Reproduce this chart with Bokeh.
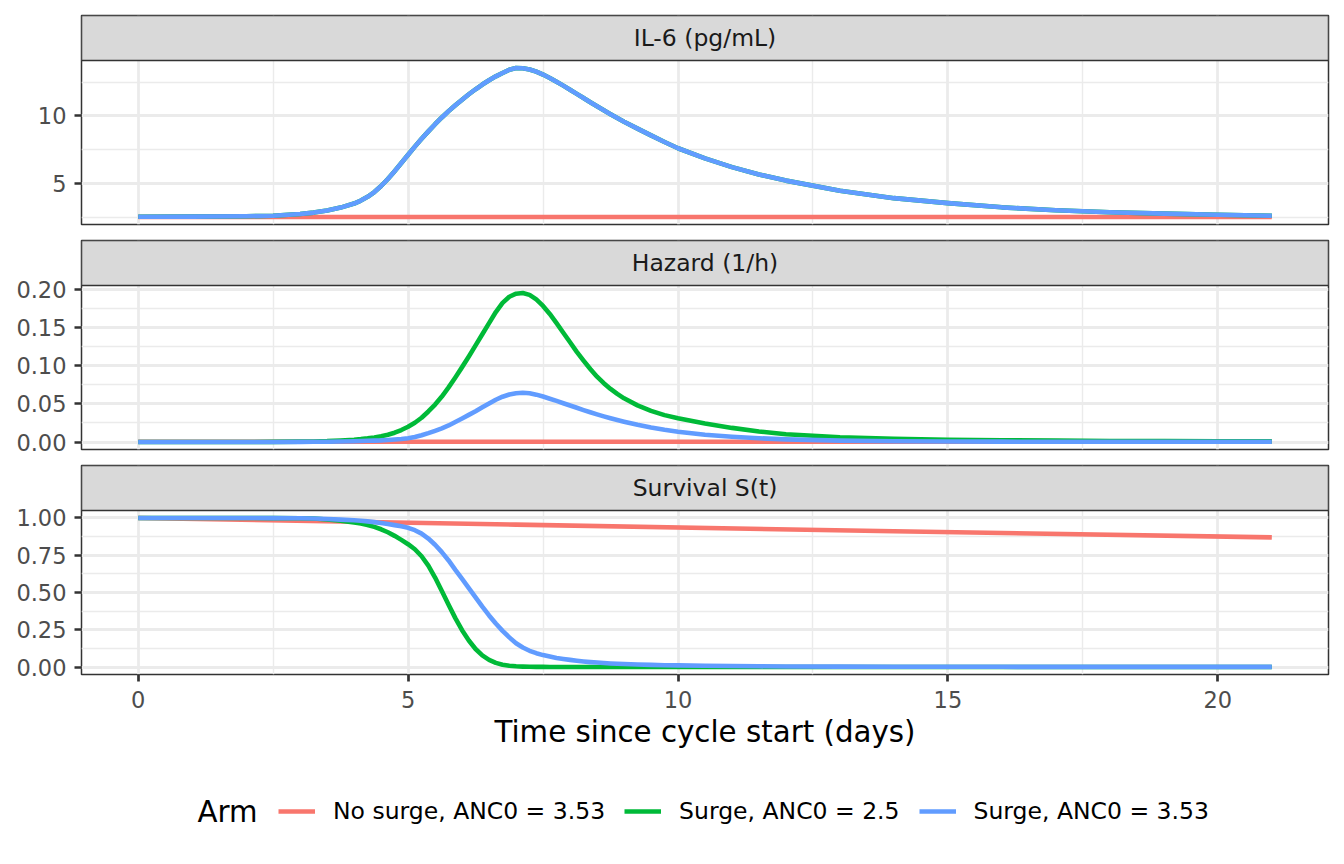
from bokeh.plotting import figure
from bokeh.models import (ColumnDataSource, Range1d, FixedTicker, BoxAnnotation, Label,
                          Legend, LegendItem, PrintfTickFormatter)
from bokeh.layouts import column
from bokeh.embed import file_html
from bokeh.resources import INLINE

# ---------------- data ----------------
# time grid (days) used for the two surge arms
days = [0, 1, 2, 2.5, 3, 3.25, 3.5, 3.75,
        4.0, 4.125, 4.25, 4.375, 4.5, 4.625, 4.75, 4.875,
        5.0, 5.125, 5.25, 5.375, 5.5, 5.625, 5.75, 5.875,
        6.0, 6.125, 6.25, 6.375, 6.5, 6.625, 6.75, 6.875,
        7.0, 7.125, 7.25, 7.375, 7.5, 7.625, 7.75, 7.875,
        8.0, 8.125, 8.25, 8.375, 8.5, 8.625, 8.75, 8.875,
        9.0, 9.25, 9.5, 9.75, 10, 10.5, 11, 11.5, 12,
        13, 14, 15, 16, 17, 18, 19, 20, 21]
# time grid (days) for the no-surge arm (smooth, slowly varying)
days_nosurge = [0, 7, 14, 21]

arm_labels = ["No surge, ANC0 = 3.53", "Surge, ANC0 = 2.5", "Surge, ANC0 = 3.53"]
arm_colors = ["#F8766D", "#00BA38", "#619CFF"]
panel_titles = ["IL-6 (pg/mL)", "Hazard (1/h)", "Survival S(t)"]
x_label = "Time since cycle start (days)"
legend_title = "Arm"

# IL-6 (pg/mL)
il6_nosurge = [2.5, 2.5, 2.5, 2.5]
il6_surge = [2.52, 2.53, 2.56, 2.60, 2.72, 2.83, 2.98, 3.20,
             3.50, 3.72, 4.00, 4.35, 4.80, 5.32, 5.90, 6.50,
             7.12, 7.72, 8.30, 8.85, 9.38, 9.88, 10.35, 10.79,
             11.20, 11.60, 11.97, 12.32, 12.64, 12.93, 13.18, 13.42,
             13.55, 13.53, 13.44, 13.28, 13.06, 12.81, 12.53, 12.24,
             11.94, 11.63, 11.32, 11.01, 10.71, 10.41, 10.12, 9.84,
             9.56, 9.05, 8.55, 8.06, 7.60, 6.85, 6.20, 5.65, 5.20,
             4.45, 3.90, 3.53, 3.22, 3.00, 2.85, 2.75, 2.67, 2.60]
il6_surge_25 = il6_surge
il6_surge_353 = il6_surge

# Hazard (1/h)
haz_nosurge = [0.0003, 0.0003, 0.0003, 0.0003]
haz_surge_25 = [0.0000, 0.0000, 0.0001, 0.0002, 0.0005, 0.0008, 0.0012, 0.0020,
                0.0030, 0.0038, 0.0048, 0.0060, 0.0075, 0.0095, 0.0122, 0.0157,
                0.0200, 0.0252, 0.0318, 0.0400, 0.0490, 0.0595, 0.0715, 0.0845,
                0.0980, 0.1120, 0.1265, 0.1410, 0.1555, 0.1700, 0.1820, 0.1900,
                0.1940, 0.1950, 0.1925, 0.1865, 0.1780, 0.1675, 0.1555, 0.1430,
                0.1305, 0.1180, 0.1065, 0.0955, 0.0855, 0.0770, 0.0695, 0.0630,
                0.0572, 0.0480, 0.0408, 0.0352, 0.0310, 0.0243, 0.0185, 0.0138, 0.0102,
                0.0062, 0.0042, 0.0030, 0.0023, 0.0018, 0.0014, 0.0012, 0.0010, 0.0009]
haz_surge_353 = [0.0000, 0.0000, 0.0000, 0.0001, 0.0002, 0.0003, 0.0004, 0.0007,
                 0.0010, 0.0013, 0.0016, 0.0019, 0.0022, 0.0027, 0.0033, 0.0040,
                 0.0050, 0.0065, 0.0088, 0.0116, 0.0147, 0.0180, 0.0217, 0.0262,
                 0.0308, 0.0355, 0.0403, 0.0455, 0.0505, 0.0553, 0.0593, 0.0621,
                 0.0638, 0.0644, 0.0638, 0.0620, 0.0595, 0.0567, 0.0538, 0.0508,
                 0.0478, 0.0448, 0.0418, 0.0390, 0.0362, 0.0336, 0.0311, 0.0288,
                 0.0266, 0.0225, 0.0190, 0.0160, 0.0135, 0.0095, 0.0070, 0.0050, 0.0035,
                 0.0018, 0.0010, 0.0007, 0.0005, 0.0004, 0.0003, 0.0003, 0.0003, 0.0003]

# Survival S(t)
surv_nosurge = [1.000, 0.955, 0.911, 0.870]
surv_surge_25 = [1.000, 1.000, 1.000, 0.999, 0.998, 0.996, 0.990, 0.982,
                 0.970, 0.963, 0.953, 0.940, 0.924, 0.904, 0.880, 0.853,
                 0.824, 0.790, 0.743, 0.680, 0.600, 0.510, 0.418, 0.328,
                 0.247, 0.178, 0.121, 0.078, 0.048, 0.028, 0.016, 0.009,
                 0.005, 0.003, 0.002, 0.001, 0.001, 0.000, 0.000, 0.000,
                 0.000, 0.000, 0.000, 0.000, 0.000, 0.000, 0.000, 0.000,
                 0.000, 0.000, 0.000, 0.000, 0.000, 0.000, 0.000, 0.000, 0.000,
                 0.000, 0.000, 0.000, 0.000, 0.000, 0.000, 0.000, 0.000, 0.000]
surv_surge_353 = [1.000, 1.000, 1.000, 0.999, 0.998, 0.996, 0.993, 0.989,
                  0.985, 0.981, 0.977, 0.972, 0.966, 0.959, 0.952, 0.944,
                  0.934, 0.918, 0.895, 0.862, 0.820, 0.771, 0.715, 0.652,
                  0.592, 0.530, 0.468, 0.405, 0.346, 0.292, 0.243, 0.199,
                  0.160, 0.131, 0.109, 0.093, 0.080, 0.070, 0.061, 0.054,
                  0.048, 0.042, 0.037, 0.033, 0.030, 0.027, 0.024, 0.022,
                  0.020, 0.017, 0.0145, 0.0125, 0.011, 0.009, 0.007, 0.005, 0.004,
                  0.003, 0.002, 0.002, 0.0015, 0.001, 0.001, 0.001, 0.001, 0.001]

x_ticks = [0, 5, 10, 15, 20]
x_minor = [2.5, 7.5, 12.5, 17.5]
il6_ticks = [5, 10]
il6_minor = [2.5, 7.5, 12.5]
haz_ticks = [0.0, 0.05, 0.10, 0.15, 0.20]
haz_minor = [0.025, 0.075, 0.125, 0.175]
surv_ticks = [0.0, 0.25, 0.50, 0.75, 1.00]
surv_minor = [0.125, 0.375, 0.625, 0.875]

# ---------------- styling ----------------
FONT = "DejaVu Sans"
GRID = "#EBEBEB"
DARK = "#333333"
LINE_W = 4.6
STRIP_PX = 45
PANEL_PX = 164
FIG_W = 1344
BORDER_L = 81
BORDER_R = 16
FRAME_W = FIG_W - BORDER_L - BORDER_R

all_days = days + days_nosurge
x_lo, x_hi = min(all_days), max(all_days)
xpad = 0.05 * (x_hi - x_lo)
x_start, x_end = x_lo - xpad, x_hi + xpad

panels = [
    dict(title=panel_titles[0], series=[il6_nosurge, il6_surge_25, il6_surge_353],
         ticks=il6_ticks, minor=il6_minor, fmt=None,
         height=238, top=15, bottom=14, xaxis=False),
    dict(title=panel_titles[1], series=[haz_nosurge, haz_surge_25, haz_surge_353],
         ticks=haz_ticks, minor=haz_minor, fmt="%.2f",
         height=225, top=2, bottom=14, xaxis=False),
    dict(title=panel_titles[2], series=[surv_nosurge, surv_surge_25, surv_surge_353],
         ticks=surv_ticks, minor=surv_minor, fmt="%.2f",
         height=301, top=2, bottom=90, xaxis=True),
]

figs = []
for spec in panels:
    vals = [v for s in spec["series"] for v in s]
    lo, hi = min(vals), max(vals)
    pad = 0.05 * (hi - lo)
    y0, y1 = lo - pad, hi + pad
    y_top = y1 + STRIP_PX * (y1 - y0) / PANEL_PX

    p = figure(width=FIG_W, height=spec["height"], output_backend="svg", toolbar_location=None,
               x_range=Range1d(x_start, x_end), y_range=Range1d(y0, y_top),
               x_axis_location=("below" if spec["xaxis"] else None),
               min_border_left=BORDER_L, min_border_right=BORDER_R,
               min_border_top=spec["top"], min_border_bottom=spec["bottom"])
    p.background_fill_color = "white"
    p.border_fill_color = "white"
    p.outline_line_color = DARK
    p.outline_line_width = 1.5

    xt = FixedTicker(ticks=x_ticks, minor_ticks=x_minor)
    yt = FixedTicker(ticks=spec["ticks"], minor_ticks=spec["minor"])
    p.xgrid.ticker = xt
    p.ygrid.ticker = yt
    for g in (p.xgrid, p.ygrid):
        g.grid_line_color = GRID
        g.grid_line_width = 2.8
        g.minor_grid_line_color = GRID
        g.minor_grid_line_width = 1.4

    p.yaxis.ticker = yt
    if spec["fmt"]:
        p.yaxis.formatter = PrintfTickFormatter(format=spec["fmt"])
    axes = list(p.yaxis) + (list(p.xaxis) if spec["xaxis"] else [])
    for ax in axes:
        ax.axis_line_color = None
        ax.major_tick_line_color = DARK
        ax.major_tick_line_width = 2.7
        ax.major_tick_in = 0
        ax.major_tick_out = 7
        ax.minor_tick_line_color = None
        ax.major_label_text_font = FONT
        ax.major_label_text_font_size = "22.5px"
        ax.major_label_text_color = "#4D4D4D"
    p.yaxis.major_label_standoff = 8
    if spec["xaxis"]:
        p.xaxis.ticker = xt
        p.xaxis.major_label_standoff = 9
        p.xaxis.axis_label = x_label
        p.xaxis.axis_label_text_font = FONT
        p.xaxis.axis_label_text_font_size = "29.3px"
        p.xaxis.axis_label_text_font_style = "normal"
        p.xaxis.axis_label_text_color = "black"
        p.xaxis.axis_label_standoff = 4

    src_none = ColumnDataSource(dict(t=days_nosurge, y=spec["series"][0]))
    src_surge = ColumnDataSource(dict(t=days, b=spec["series"][1], c=spec["series"][2]))
    p.line(x="t", y="y", source=src_none, line_color=arm_colors[0],
           line_width=LINE_W, line_join="round")
    p.line(x="t", y="b", source=src_surge, line_color=arm_colors[1],
           line_width=LINE_W, line_join="round")
    p.line(x="t", y="c", source=src_surge, line_color=arm_colors[2],
           line_width=LINE_W, line_join="round")

    # facet strip
    p.add_layout(BoxAnnotation(bottom=y1, fill_color="#D9D9D9", fill_alpha=1.0,
                               line_color=DARK, line_width=1.5, line_alpha=1.0))
    p.add_layout(Label(x=(x_start + x_end) / 2, y=(y1 + y_top) / 2, text=spec["title"],
                       text_align="center", text_baseline="middle", text_font=FONT,
                       text_font_size="23.5px", text_color="#1A1A1A"))
    figs.append(p)

# ---------------- legend strip (bottom) ----------------
LEG_H = 100
pl = figure(width=FIG_W, height=LEG_H, output_backend="svg", toolbar_location=None,
            x_range=Range1d(x_start, x_end), y_range=Range1d(0, LEG_H),
            x_axis_location=None, y_axis_location=None,
            min_border_left=BORDER_L, min_border_right=BORDER_R,
            min_border_top=0, min_border_bottom=0)
pl.outline_line_color = None
pl.background_fill_color = "white"
pl.border_fill_color = "white"
pl.xgrid.visible = False
pl.ygrid.visible = False
leg_src_none = ColumnDataSource(dict(t=days_nosurge, y=surv_nosurge))
leg_src_surge = ColumnDataSource(dict(t=days, b=surv_surge_25, c=surv_surge_353))
key_renderers = [
    pl.line(x="t", y="y", source=leg_src_none, line_color=arm_colors[0], line_width=LINE_W,
            visible=False),
    pl.line(x="t", y="b", source=leg_src_surge, line_color=arm_colors[1], line_width=LINE_W,
            visible=False),
    pl.line(x="t", y="c", source=leg_src_surge, line_color=arm_colors[2], line_width=LINE_W,
            visible=False),
]
items = [LegendItem(label=lab, renderers=[r]) for lab, r in zip(arm_labels, key_renderers)]
legend = Legend(items=items, orientation="horizontal", location=(197, 39),
                padding=0, margin=0, spacing=19, label_standoff=18,
                glyph_width=37, glyph_height=20, border_line_alpha=0,
                background_fill_alpha=0, inactive_fill_alpha=0)
legend.label_text_font = FONT
legend.label_text_font_size = "23.5px"
legend.label_text_color = "black"
pl.add_layout(legend)

# legend title "Arm", left of the keys
arm_px = 116
pl.add_layout(Label(x=x_start + arm_px * (x_end - x_start) / FRAME_W, y=53,
                    text=legend_title, text_align="left", text_baseline="middle",
                    text_font=FONT, text_font_size="29.3px", text_color="black"))
figs.append(pl)

layout = column(*figs, spacing=0)
open("out.html", "w").write(file_html(layout, INLINE))
